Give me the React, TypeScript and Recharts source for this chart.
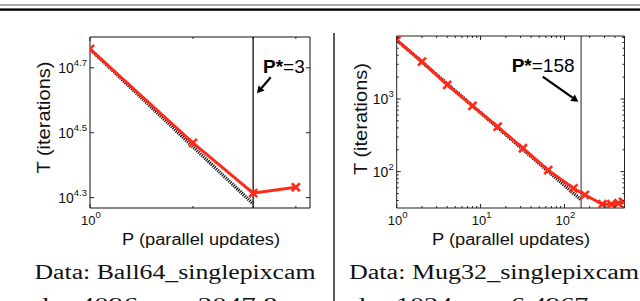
import React from 'react';
import { ComposedChart, Line, XAxis, YAxis, ReferenceLine } from 'recharts';

// ---------- Data ----------
// Left panel: Ball64_singlepixcam
const ballP = [1, 2, 3, 4];
const ballT = [57280, 29440, 20600, 21480];
const ballIdealP = [1, 3];
const ballIdealT = [57280, 19093];
const ballXDomain = [1, 4.4];
const ballYDomain = [18535, 62373];
const ballXTicks = [1, 2, 3, 4];
const ballXMajor = [1];
const ballXExp = ['0'];
const ballYExp = ['4.3', '4.5', '4.7'];
const ballPStar = 3;

// Right panel: Mug32_singlepixcam
const mugP = [1, 2, 4, 8, 16, 32, 64, 128, 175, 283, 363, 440, 500];
const mugT = [6470, 3260, 1560, 802, 416, 210, 105, 59, 48, 35.6, 35.6, 36.7, 38.3];
const mugIdealP = [1, 158];
const mugIdealT = [6470, 40.9];
const mugXDomain = [1, 520];
const mugYDomain = [31.6, 7360];
const mugXTicks = [1, 2, 3, 4, 5, 6, 7, 8, 9, 10, 20, 30, 40, 50, 60, 70, 80, 90, 100, 200, 300, 400, 500];
const mugXMajor = [1, 10, 100];
const mugXExp = ['0', '1', '2'];
const mugYTicks = [40, 50, 60, 70, 80, 90, 100, 200, 300, 400, 500, 600, 700, 800, 900, 1000, 2000, 3000, 4000, 5000, 6000, 7000];
const mugYMajor = [100, 1000];
const mugYExp = ['2', '3'];
const mugPStar = 158;

const ballYTicks = ballYExp.map((e) => Math.pow(10, parseFloat(e)));

const zip = (p: number[], t: number[]) => p.map((v, i) => ({ p: v, t: t[i] }));

const RED = '#ff2a1a';
const SANS = '"Liberation Sans", Arial, Helvetica, sans-serif';
const SERIF = '"Liberation Serif", "DejaVu Serif", serif';

type Side = 'bottom' | 'top' | 'left' | 'right';

function makeTick(side: Side, majors: number[], exps: string[] | null, majorLen = 4, minorLen = 2) {
  return (props: any) => {
    const { payload } = props;
    const v = payload.value as number;
    const c = payload.coordinate as number;
    const x = side === 'bottom' || side === 'top' ? c : props.x;
    const y = side === 'left' || side === 'right' ? c : props.y;
    const mi = majors.findIndex((m) => Math.abs(m - v) / m < 1e-6);
    const isMajor = mi >= 0;
    const len = isMajor ? majorLen : minorLen;
    let x2 = x, y2 = y;
    if (side === 'bottom') y2 = y - len;
    if (side === 'top') y2 = y + len;
    if (side === 'left') x2 = x + len;
    if (side === 'right') x2 = x - len;
    let label: React.ReactNode = null;
    if (isMajor && exps) {
      const exp = exps[mi];
      if (side === 'bottom') {
        label = (
          <text x={x + 1} y={y + 17} textAnchor="middle" fontFamily={SANS} fontSize={13} fill="#111">
            <tspan>10</tspan>
            <tspan dy={-7} fontSize={9.5}>{exp}</tspan>
          </text>
        );
      } else if (side === 'left') {
        label = (
          <text x={x - 3} y={y + 5} textAnchor="end" fontFamily={SANS} fontSize={14} fill="#111">
            <tspan>10</tspan>
            <tspan dy={-7} fontSize={9.5}>{exp}</tspan>
          </text>
        );
      }
    }
    return (
      <g>
        <line x1={x} y1={y} x2={x2} y2={y2} stroke="#222" strokeWidth={1} />
        {label}
      </g>
    );
  };
}

const XMark = (props: any) => {
  const { cx, cy, index } = props;
  if (cx == null || cy == null) return <g key={`m${index}`} />;
  const s = 4;
  return (
    <g key={`m${index}`}>
      <line x1={cx - s} y1={cy - s} x2={cx + s} y2={cy + s} stroke={RED} strokeWidth={2.6} />
      <line x1={cx - s} y1={cy + s} x2={cx + s} y2={cy - s} stroke={RED} strokeWidth={2.6} />
    </g>
  );
};

interface PanelProps {
  left: number;
  width: number;
  margin: { top: number; right: number; bottom: number; left: number };
  red: { p: number; t: number }[];
  ideal: { p: number; t: number }[];
  xDomain: number[];
  yDomain: number[];
  xTicks: number[];
  xMajor: number[];
  xExp: string[];
  yTicks: number[];
  yMajor: number[];
  yExp: string[];
  pStar: number;
  pStarColor: string;
  boxColor: string;
}

function Panel(pp: PanelProps) {
  const m = pp.margin;
  const margin = { top: m.top - 1, right: m.right - 1, bottom: m.bottom - 1, left: m.left - 1 };
  return (
    <div style={{ position: 'absolute', left: pp.left, top: 0 }}>
      <ComposedChart width={pp.width} height={301} margin={margin}>
        <XAxis
          xAxisId="b"
          orientation="bottom"
          type="number"
          dataKey="p"
          scale="log"
          domain={pp.xDomain}
          allowDataOverflow
          ticks={pp.xTicks}
          interval={0}
          height={1}
          tickSize={0}
          tickMargin={0}
          tickLine={false}
          axisLine={{ stroke: pp.boxColor, strokeWidth: 1 }}
          tick={makeTick('bottom', pp.xMajor, pp.xExp)}
        />
        <XAxis
          xAxisId="t"
          orientation="top"
          type="number"
          dataKey="p"
          scale="log"
          domain={pp.xDomain}
          allowDataOverflow
          ticks={pp.xTicks}
          interval={0}
          height={1}
          tickSize={0}
          tickMargin={0}
          tickLine={false}
          axisLine={{ stroke: pp.boxColor, strokeWidth: 1 }}
          tick={makeTick('top', pp.xMajor, null)}
        />
        <YAxis
          yAxisId="l"
          orientation="left"
          type="number"
          scale="log"
          domain={pp.yDomain}
          allowDataOverflow
          ticks={pp.yTicks}
          interval={0}
          width={1}
          tickSize={0}
          tickMargin={0}
          tickLine={false}
          axisLine={{ stroke: pp.boxColor, strokeWidth: 1 }}
          tick={makeTick('left', pp.yMajor, pp.yExp)}
        />
        <YAxis
          yAxisId="r"
          orientation="right"
          type="number"
          scale="log"
          domain={pp.yDomain}
          allowDataOverflow
          ticks={pp.yTicks}
          interval={0}
          width={1}
          tickSize={0}
          tickMargin={0}
          tickLine={false}
          axisLine={{ stroke: pp.boxColor, strokeWidth: 1 }}
          tick={makeTick('right', pp.yMajor, null)}
        />
        <ReferenceLine xAxisId="b" yAxisId="l" x={pp.pStar} stroke={pp.pStarColor} strokeWidth={1.3} />
        <Line
          xAxisId="b"
          yAxisId="l"
          data={pp.ideal}
          dataKey="t"
          type="linear"
          stroke="#111"
          strokeWidth={3.5}
          strokeDasharray="1.2 1"
          dot={false}
          isAnimationActive={false}
        />
        <Line
          xAxisId="b"
          yAxisId="l"
          data={pp.red}
          dataKey="t"
          type="linear"
          stroke={RED}
          strokeWidth={3}
          dot={XMark}
          activeDot={false}
          isAnimationActive={false}
        />
      </ComposedChart>
    </div>
  );
}

function Arrow({ x1, y1, x2, y2 }: { x1: number; y1: number; x2: number; y2: number }) {
  const dx = x2 - x1, dy = y2 - y1;
  const L = Math.sqrt(dx * dx + dy * dy);
  const ux = dx / L, uy = dy / L;
  const hl = 7, hw = 4;
  const bx = x2 - ux * hl, by = y2 - uy * hl;
  const pts = `${x2},${y2} ${bx - uy * hw},${by + ux * hw} ${bx + uy * hw},${by - ux * hw}`;
  return (
    <g>
      <line x1={x1} y1={y1} x2={bx} y2={by} stroke="#000" strokeWidth={2.2} />
      <polygon points={pts} fill="#000" />
    </g>
  );
}

export default function App() {
  return (
    <div style={{ position: 'absolute', left: 0, top: 0, width: 640, height: 301, overflow: 'hidden', background: '#fff' }}>
      <Panel
        left={0}
        width={320}
        margin={{ top: 37, right: 10, bottom: 93, left: 90 }}
        red={zip(ballP, ballT)}
        ideal={zip(ballIdealP, ballIdealT)}
        xDomain={ballXDomain}
        yDomain={ballYDomain}
        xTicks={ballXTicks}
        xMajor={ballXMajor}
        xExp={ballXExp}
        yTicks={ballYTicks}
        yMajor={ballYTicks}
        yExp={ballYExp}
        pStar={ballPStar}
        pStarColor="#111"
        boxColor="#111"
      />
      <Panel
        left={320}
        width={320}
        margin={{ top: 36, right: 15.5, bottom: 93, left: 76.7 }}
        red={zip(mugP, mugT)}
        ideal={zip(mugIdealP, mugIdealT)}
        xDomain={mugXDomain}
        yDomain={mugYDomain}
        xTicks={mugXTicks}
        xMajor={mugXMajor}
        xExp={mugXExp}
        yTicks={mugYTicks}
        yMajor={mugYMajor}
        yExp={mugYExp}
        pStar={mugPStar}
        pStarColor="#555"
        boxColor="#222"
      />
      <svg width={640} height={301} style={{ position: 'absolute', left: 0, top: 0, pointerEvents: 'none' }}>
        <line x1={0} y1={5} x2={640} y2={5} stroke="#555" strokeWidth={1} />
        <rect x={0} y={8.4} width={640} height={2.4} fill="#000" />
        <line x1={334} y1={33} x2={334} y2={301} stroke="#222" strokeWidth={1.5} />

        <text transform="translate(50,117.5) rotate(-90)" textAnchor="middle" fontFamily={SANS} fontSize={18} textLength={112} lengthAdjust="spacingAndGlyphs" fill="#111">T (iterations)</text>
        <text transform="translate(367,119) rotate(-90)" textAnchor="middle" fontFamily={SANS} fontSize={18} textLength={112} lengthAdjust="spacingAndGlyphs" fill="#111">T (iterations)</text>

        <text x={201} y={244.5} textAnchor="middle" fontFamily={SANS} fontSize={16} textLength={158} lengthAdjust="spacingAndGlyphs" fill="#111">P (parallel updates)</text>
        <text x={511} y={244.5} textAnchor="middle" fontFamily={SANS} fontSize={16} textLength={158} lengthAdjust="spacingAndGlyphs" fill="#111">P (parallel updates)</text>

        <text x={263} y={73.3} fontFamily={SANS} fontSize={19} fill="#000">
          <tspan fontWeight="bold">P*</tspan>
          <tspan>=3</tspan>
        </text>
        <Arrow x1={270.7} y1={77.3} x2={257} y2={93.3} />
        <text x={511.7} y={71.7} fontFamily={SANS} fontSize={19} fill="#000">
          <tspan fontWeight="bold">P*</tspan>
          <tspan>=158</tspan>
        </text>
        <Arrow x1={542.7} y1={76.7} x2={578.3} y2={101.7} />

        <text x={175} y={279} textAnchor="middle" fontFamily={SERIF} fontSize={20} textLength={281} lengthAdjust="spacingAndGlyphs" fill="#111">Data: Ball64_singlepixcam</text>
        <text x={494} y={279} textAnchor="middle" fontFamily={SERIF} fontSize={20} textLength={290} lengthAdjust="spacingAndGlyphs" fill="#111">Data: Mug32_singlepixcam</text>
        <text x={156} y={312} textAnchor="middle" fontFamily={SERIF} fontSize={20} textLength={243} lengthAdjust="spacingAndGlyphs" fill="#111">d = 4096, ρ = 2047.8</text>
        <text x={470} y={312} textAnchor="middle" fontFamily={SERIF} fontSize={20} textLength={237} lengthAdjust="spacingAndGlyphs" fill="#111">d = 1024, ρ = 6.4967</text>
      </svg>
    </div>
  );
}
